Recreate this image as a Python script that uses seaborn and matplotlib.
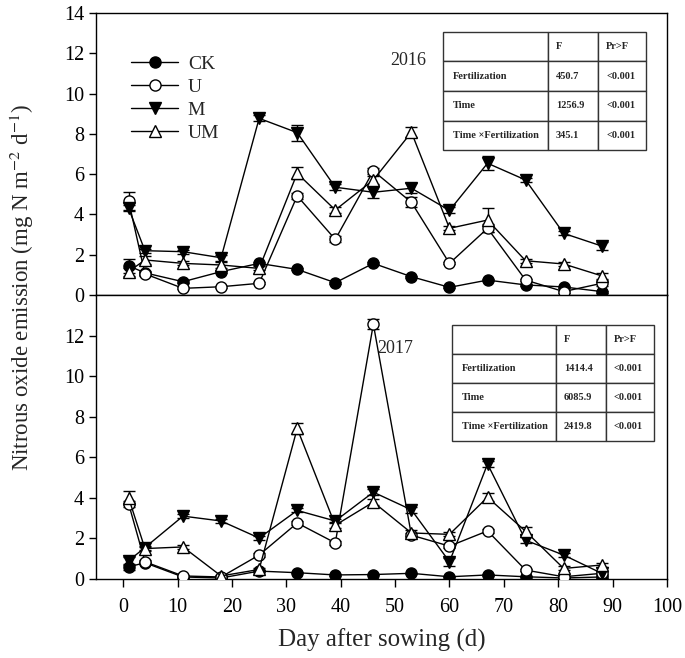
import matplotlib
matplotlib.use("Agg")
import matplotlib.pyplot as plt
import seaborn as sns
import numpy as np

sns.set_theme(style="ticks")
plt.rcParams['font.family'] = ['Liberation Serif', 'DejaVu Serif']
plt.rcParams['mathtext.fontset'] = 'stix'

days = [1, 4, 11, 18, 25, 32, 39, 46, 53, 60, 67, 74, 81, 88]
series = ["CK", "U", "M", "UM"]

# 2016
ck_2016 = [1.45, 1.1, 0.66, 1.16, 1.57, 1.27, 0.61, 1.57, 0.91, 0.38, 0.74, 0.5, 0.4, 0.17]
u_2016 = [4.67, 1.05, 0.33, 0.41, 0.58, 4.92, 2.76, 6.16, 4.6, 1.57, 3.31, 0.74, 0.17, 0.58]
m_2016 = [4.3, 2.2, 2.15, 1.85, 8.77, 8.06, 5.35, 5.1, 5.3, 4.2, 6.54, 5.71, 3.06, 2.43]
um_2016 = [1.16, 1.74, 1.57, 1.49, 1.32, 6.04, 4.22, 5.71, 8.08, 3.31, 3.72, 1.7, 1.54, 0.95]
ck_se_2016 = [0.35, 0.1, 0.08, 0.08, 0.08, 0.05, 0.05, 0.05, 0.05, 0.05, 0.05, 0.05, 0.05, 0.05]
u_se_2016 = [0.45, 0.1, 0.05, 0.05, 0.05, 0.15, 0.15, 0.15, 0.25, 0.05, 0.2, 0.05, 0.05, 0.15]
m_se_2016 = [0.15, 0.1, 0.1, 0.15, 0.15, 0.4, 0.15, 0.3, 0.25, 0.15, 0.35, 0.1, 0.1, 0.2]
um_se_2016 = [0.2, 0.2, 0.1, 0.15, 0.1, 0.3, 0.15, 0.2, 0.25, 0.1, 0.6, 0.1, 0.1, 0.15]

# 2017
ck_2017 = [0.6, 0.8, 0.1, 0.05, 0.39, 0.31, 0.2, 0.22, 0.28, 0.11, 0.2, 0.11, 0.05, 0.1]
u_2017 = [3.71, 0.85, 0.15, 0.1, 1.18, 2.76, 1.78, 12.56, 2.16, 1.62, 2.37, 0.44, 0.11, 0.28]
m_2017 = [0.9, 1.55, 3.1, 2.86, 2.02, 3.38, 2.86, 4.28, 3.41, 0.85, 5.67, 1.91, 1.18, 0.28]
um_2017 = [4.0, 1.5, 1.58, 0.15, 0.47, 7.42, 2.65, 3.79, 2.27, 2.2, 4.03, 2.35, 0.52, 0.69]
ck_se_2017 = [0.15, 0.05, 0.03, 0.03, 0.03, 0.03, 0.03, 0.03, 0.03, 0.03, 0.03, 0.03, 0.03, 0.03]
u_se_2017 = [0.15, 0.1, 0.05, 0.05, 0.1, 0.1, 0.1, 0.25, 0.1, 0.1, 0.1, 0.05, 0.05, 0.05]
m_se_2017 = [0.2, 0.1, 0.1, 0.1, 0.1, 0.1, 0.1, 0.15, 0.15, 0.2, 0.15, 0.15, 0.1, 0.1]
um_se_2017 = [0.35, 0.1, 0.1, 0.05, 0.05, 0.25, 0.15, 0.15, 0.15, 0.1, 0.2, 0.2, 0.1, 0.1]

stats_rows = ["Fertilization", "Time", "Time \u00d7Fertilization"]
stats_cols = ["", "F", "Pr>F"]
f_2016 = ["450.7", "1256.9", "345.1"]
p_2016 = ["<0.001", "<0.001", "<0.001"]
f_2017 = ["1414.4", "6085.9", "2419.8"]
p_2017 = ["<0.001", "<0.001", "<0.001"]

styles = {
    "CK": dict(marker="o", mfc="black"),
    "U": dict(marker="o", mfc="white"),
    "M": dict(marker="v", mfc="black"),
    "UM": dict(marker="^", mfc="white"),
}

fig = plt.figure(figsize=(6.85, 6.58), dpi=100)
W, H = 685, 658
left, right = 96, 667
ax1 = fig.add_axes([left / W, 1 - 295 / H, (right - left) / W, 282 / H])
ax2 = fig.add_axes([left / W, 1 - 579 / H, (right - left) / W, 284 / H])


def draw(ax, vals, ses):
    for name, v, se in zip(series, vals, ses):
        st = styles[name]
        ax.errorbar(days, v, yerr=se, fmt="none", ecolor="black", elinewidth=1,
                    capsize=4.5, capthick=1, zorder=2)
        sns.lineplot(x=days, y=v, ax=ax, color="black", linewidth=1,
                     marker=st["marker"], markerfacecolor=st["mfc"],
                     markeredgecolor="black", markeredgewidth=1, markersize=8,
                     label=name, zorder=3)


draw(ax1, [ck_2016, u_2016, m_2016, um_2016],
     [ck_se_2016, u_se_2016, m_se_2016, um_se_2016])
draw(ax2, [ck_2017, u_2017, m_2017, um_2017],
     [ck_se_2017, u_se_2017, m_se_2017, um_se_2017])

for ax in (ax1, ax2):
    ax.set_xlim(-5, 100)
    ax.set_ylim(0, 14)
    for s in ax.spines.values():
        s.set_visible(True)
        s.set_color("black")
        s.set_linewidth(1)
    ax.tick_params(axis="both", direction="out", length=5, width=1,
                   labelsize=14.5, colors="black")
    ax.set_xlabel("")
    ax.set_ylabel("")

ax1.set_yticks(np.arange(0, 15, 2))
ax1.set_xticks([])
ax2.set_yticks(np.arange(0, 13, 2))
ax2.set_xticks(np.arange(0, 101, 10))
ax2.tick_params(axis="x", length=6, pad=8)

leg = ax1.legend(loc="upper left", bbox_to_anchor=(0.045, 0.885), frameon=False,
                 fontsize=14, handlelength=2.4, labelspacing=0.28,
                 handletextpad=0.5, borderpad=0)
ax2.get_legend().remove()

ax1.text(0.546, 0.833, "2016", transform=ax1.transAxes, fontsize=13,
         ha="center", va="center")
ax2.text(0.524, 0.813, "2017", transform=ax2.transAxes, fontsize=13,
         ha="center", va="center")

col_px = [104, 50, 48]
pad_px = [10, 8, 8]


def add_table(ax, fvals, pvals, bbox):
    cells = [stats_cols] + [[r, f, p] for r, f, p in zip(stats_rows, fvals, pvals)]
    tb = ax.table(cellText=cells, cellLoc="left", bbox=bbox, colWidths=col_px)
    tb.auto_set_font_size(False)
    for (r, c), cell in tb.get_celld().items():
        cell.set_edgecolor("#333333")
        cell.set_linewidth(1)
        cell.set_facecolor("white")
        cell.PAD = pad_px[c] / col_px[c]
        t = cell.get_text()
        t.set_fontsize(7.5)
        t.set_fontweight("bold")
    tb.set_zorder(5)
    return tb


add_table(ax1, f_2016, p_2016, [0.608, 0.514, 0.356, 0.419])
add_table(ax2, f_2017, p_2017, [0.623, 0.486, 0.354, 0.408])

fig.text(22 / W, 1 - 288 / H, "Nitrous oxide emission (mg N m$^{-2}$ d$^{-1}$)",
         rotation=90, ha="center", va="center", fontsize=16.5)
fig.text((left + right) / 2 / W, 1 - 640 / H, "Day after sowing (d)",
         ha="center", va="center", fontsize=18)

fig.savefig("out.png", dpi=100)
